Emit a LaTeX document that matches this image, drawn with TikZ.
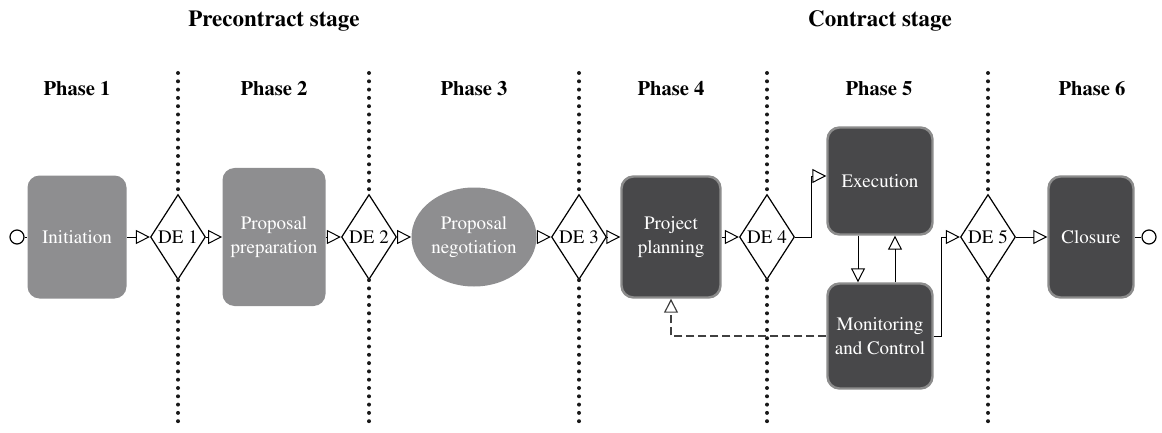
\documentclass[tikz,border=0pt]{standalone}
\usepackage[T1]{fontenc}
\usepackage{times}
\usetikzlibrary{shapes.geometric,arrows.meta}
\definecolor{boxgray}{HTML}{8E8E90}
\definecolor{boxdark}{HTML}{48484A}
\definecolor{rimgray}{HTML}{8C8C8C}
\begin{document}
\begin{tikzpicture}[x=0.5pt,y=-0.5pt,>={Triangle[open,length=7pt,width=7pt]},
  lightbox/.style={rounded corners=6pt, fill=boxgray, text=white, align=center, inner sep=0pt, font=\fontsize{9.5}{12}\selectfont},
  darkbox/.style={rounded corners=6pt, fill=boxdark, draw=rimgray, line width=1.2pt, text=white, align=center, inner sep=0pt, font=\fontsize{9.5}{12}\selectfont},
  gate/.style={diamond, draw, line width=0.6pt, shape aspect=0.65, minimum width=27.5pt, minimum height=42.5pt, inner sep=0pt, font=\fontsize{9.5}{12}\selectfont},
  endpt/.style={circle, draw, line width=0.6pt, minimum size=7pt, inner sep=0pt},
  phase/.style={font=\bfseries\fontsize{10.3}{12}\selectfont},
  stage/.style={font=\bfseries\fontsize{11.5}{13}\selectfont},
  sepline/.style={draw=black!90, line width=2pt, line cap=round, dash pattern=on 0pt off 4.15pt},
  flow/.style={->, line width=0.5pt},
  feedback/.style={-{Triangle[open,length=7pt,width=7pt,line width=0.6pt]}, draw=black!75, line width=1.3pt, dash pattern=on 4pt off 2pt}]
\useasboundingbox (0,0) rectangle (1162,433);
\coordinate (top) at (0,73);
\coordinate (bot) at (0,425);
\node[stage] (pre) at (274,21) {Precontract stage};
\node[stage] (con) at (880,21) {Contract stage};
\node[phase] (ph1) at (77,89) {Phase 1};
\node[phase] (ph2) at (274,89) {Phase 2};
\node[phase] (ph3) at (474,89) {Phase 3};
\node[phase] (ph4) at (671,89) {Phase 4};
\node[phase] (ph5) at (879,89) {Phase 5};
\node[phase] (ph6) at (1092,89) {Phase 6};
\node[endpt] (start) at (17,237) {};
\node[lightbox, minimum width=49.5pt, minimum height=61.5pt] (init) at (77,237) {Initiation};
\node[gate] (de1) at (178,237) {DE 1};
\node[lightbox, minimum width=51.5pt, minimum height=69pt] (prep) at (274,237) {Proposal\\preparation};
\node[gate] (de2) at (369,237) {DE 2};
\node[ellipse, fill=boxgray, text=white, align=center, inner sep=0pt, minimum width=62.5pt, minimum height=49.5pt, font=\fontsize{9.5}{12}\selectfont] (nego) at (474,237) {Proposal\\negotiation};
\node[gate] (de3) at (579,237) {DE 3};
\node[darkbox, minimum width=49.5pt, minimum height=60.5pt] (plan) at (671,237) {Project\\planning};
\node[gate] (de4) at (767,237) {DE 4};
\node[darkbox, minimum width=52.5pt, minimum height=53.5pt] (exec) at (880,181) {Execution};
\node[darkbox, minimum width=52.5pt, minimum height=52.5pt] (mon) at (880,336) {Monitoring\\and Control};
\node[gate] (de5) at (988,237) {DE 5};
\node[darkbox, minimum width=42.5pt, minimum height=60.5pt] (close) at (1091,237) {Closure};
\node[endpt] (finish) at (1149,237) {};
\foreach \d in {de1,de2,de3,de4,de5} {
  \draw[sepline] (\d.north |- top) -- (\d.north);
  \draw[sepline] (\d.south) -- (\d.south |- bot);
}
\draw[line width=0.5pt] (start) -- (init);
\draw[flow] (init) -- (de1);
\draw[flow] (de1) -- (prep);
\draw[flow] (prep) -- (de2);
\draw[flow] (de2) -- (nego);
\draw[flow] (nego) -- (de3);
\draw[flow] (de3) -- (plan);
\draw[flow] (plan) -- (de4);
\draw[flow] (de4.east) -- ++(16,0) |- ([yshift=2.5pt]exec.west);
\draw[flow] ([xshift=-11pt]exec.south) -- ([xshift=-11pt]mon.north);
\draw[flow] ([xshift=7.5pt]mon.north) -- ([xshift=7.5pt]exec.south);
\draw[flow] (mon.east) -- ++(8,0) |- (de5.west);
\draw[feedback] (mon.west) -| (plan.south);
\draw[flow] (de5) -- (close);
\draw[line width=0.5pt] (close) -- (finish);
\end{tikzpicture}
\end{document}
